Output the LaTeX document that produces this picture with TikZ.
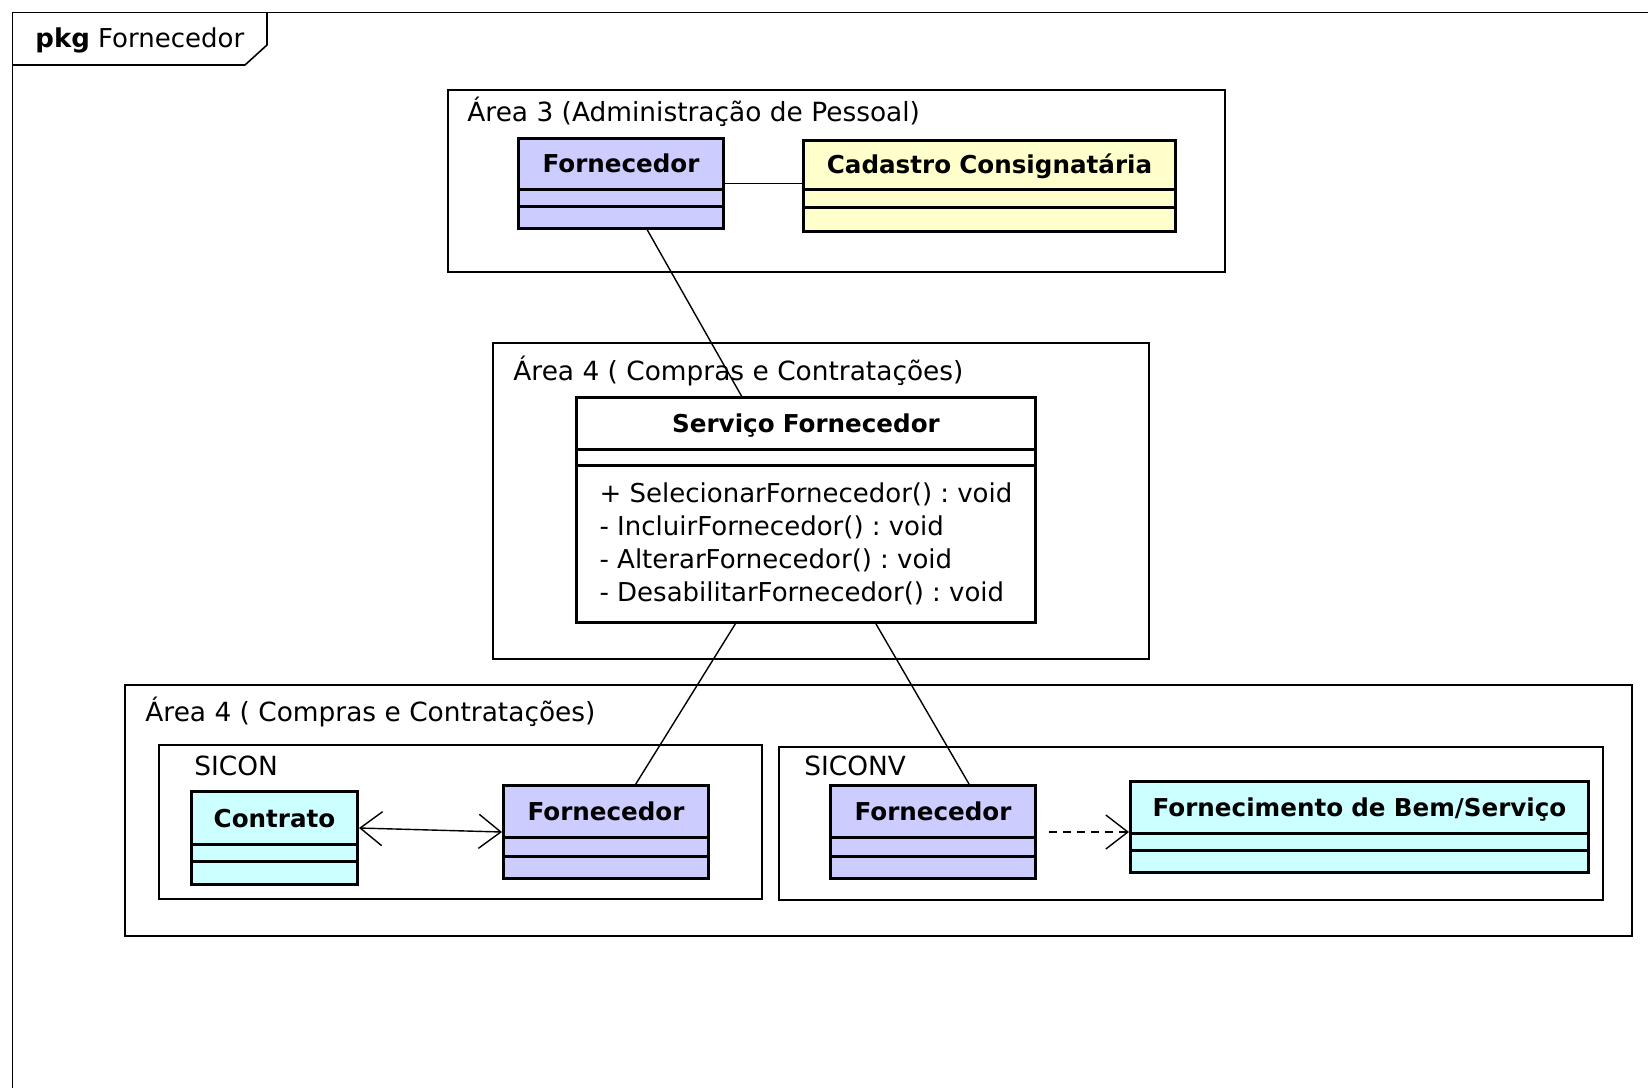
\documentclass[tikz,border=0pt]{standalone}
\usepackage{fontspec}
\setmainfont{DejaVu Sans}
\usetikzlibrary{positioning,shapes.multipart,arrows.meta}
\frenchspacing

\definecolor{lilas}{RGB}{204,204,255}
\definecolor{creme}{RGB}{255,255,204}
\definecolor{ciano}{RGB}{204,255,255}

\tikzset{
  pacote/.style={draw, line width=0.8pt, anchor=north west, inner sep=0pt},
  rotulo/.style={anchor=west, inner sep=0pt, font=\fontsize{13.2}{16}\selectfont},
  classe/.style={rectangle split, rectangle split parts=3, draw, line width=1.5pt,
    inner sep=0pt, text width=#1, align=center, anchor=north west,
    font=\fontsize{12.3}{15}\selectfont\bfseries},
  liga/.style={line width=0.7pt},
  farpa/.tip={Straight Barb[length=11pt,width=17pt]}
}

\begin{document}
\begin{tikzpicture}[x=0.5pt, y=-0.5pt]

\useasboundingbox (0,0) rectangle (1648,1087);

\draw[line width=0.8pt] (12.6,1100) -- (12.6,12.6) -- (1660,12.6);

\draw[line width=0.8pt] (12.6,65) -- (245,65) -- (267,45) -- (267,12.6);

\node[anchor=west, inner sep=0pt, font=\fontsize{13}{16}\selectfont] (pkg) at (35,40) {\textbf{pkg} Fornecedor};

\node[pacote, minimum width=388.5pt, minimum height=91pt] (area3) at (447,89) {};

\node[rotulo] (larea3) at ([xshift=10pt,yshift=-11.5pt]area3.north west) {Área 3 (Administração de Pessoal)};

\node[pacote, minimum width=328pt, minimum height=158pt] (area4) at (492,342) {};

\node[rotulo] (larea4) at ([xshift=10.5pt,yshift=-14.5pt]area4.north west) {Área 4 ( Compras e Contratações)};

\node[pacote, minimum width=753.5pt, minimum height=125.5pt] (area4b) at (124,684) {};

\node[rotulo] (larea4b) at ([xshift=10.5pt,yshift=-14pt]area4b.north west) {Área 4 ( Compras e Contratações)};

\node[pacote, minimum width=301.5pt, minimum height=77pt] (sicon) at (158,744) {};

\node[rotulo] (lsicon) at ([xshift=18pt,yshift=-11pt]sicon.north west) {SICON};

\node[pacote, minimum width=412pt, minimum height=76.5pt] (siconv) at (778,746) {};

\node[rotulo] (lsiconv) at ([xshift=13pt,yshift=-10pt]siconv.north west) {SICONV};

\node[classe=102.5pt, fill=lilas] (forn3) at (517,137) {\rule[-8pt]{0pt}{24pt}Fornecedor
  \nodepart{two}\rule{0pt}{7pt}
  \nodepart{three}\rule{0pt}{9.5pt}};

\node[classe=186pt, fill=creme, anchor=west, right=38.5pt of forn3, yshift=-1.25pt] (cadastro) {\rule[-7.5pt]{0pt}{23pt}Cadastro Consignatária
  \nodepart{two}\rule{0pt}{7.5pt}
  \nodepart{three}\rule{0pt}{10.5pt}};

\draw[liga] (forn3.east) -- (forn3.east -| cadastro.west);

\node[classe=229.5pt, fill=white] (servico) at (575,396) {\rule[-8pt]{0pt}{24.5pt}Serviço Fornecedor
  \nodepart{two}\rule{0pt}{6.5pt}
  \nodepart{three}\fontsize{13}{16.5}\selectfont\mdseries
  \begin{tabular}{@{}l@{}}
  \rule{0pt}{17.5pt}+ SelecionarFornecedor() : void\\
  - IncluirFornecedor() : void\\
  - AlterarFornecedor() : void\\
  \rule[-10pt]{0pt}{10pt}- DesabilitarFornecedor() : void
  \end{tabular}};

\draw[liga] (forn3) -- (servico);

\node[classe=83pt, fill=ciano] (contrato) at (190,790) {\rule[-8pt]{0pt}{25pt}Contrato
  \nodepart{two}\rule{0pt}{7pt}
  \nodepart{three}\rule{0pt}{10pt}};

\node[classe=102.5pt, fill=lilas, anchor=west, right=71.5pt of contrato, yshift=3pt] (fornA) {\rule[-8pt]{0pt}{24.5pt}Fornecedor
  \nodepart{two}\rule{0pt}{8pt}
  \nodepart{three}\rule{0pt}{9.5pt}};

\draw[liga, farpa-farpa] ([yshift=5pt]contrato.east) -- (fornA.west);

\node[classe=102.5pt, fill=lilas] (fornV) at (829,784) {\rule[-8pt]{0pt}{24.5pt}Fornecedor
  \nodepart{two}\rule{0pt}{8pt}
  \nodepart{three}\rule{0pt}{9.5pt}};

\node[classe=229pt, fill=ciano, anchor=west, right=46pt of fornV, yshift=2.5pt] (bem) {\rule[-8pt]{0pt}{24.5pt}Fornecimento de Bem/Serviço
  \nodepart{two}\rule{0pt}{7pt}
  \nodepart{three}\rule{0pt}{9.5pt}};

\draw[liga, dashed, dash pattern=on 4pt off 3pt, shorten <=6pt, -farpa] (fornV.east) -- (fornV.east -| bem.west);

\draw[liga] (servico) -- (fornA);

\draw[liga] ([xshift=35pt]servico.south) -- ([xshift=18pt]fornV.north);

\end{tikzpicture}
\end{document}
